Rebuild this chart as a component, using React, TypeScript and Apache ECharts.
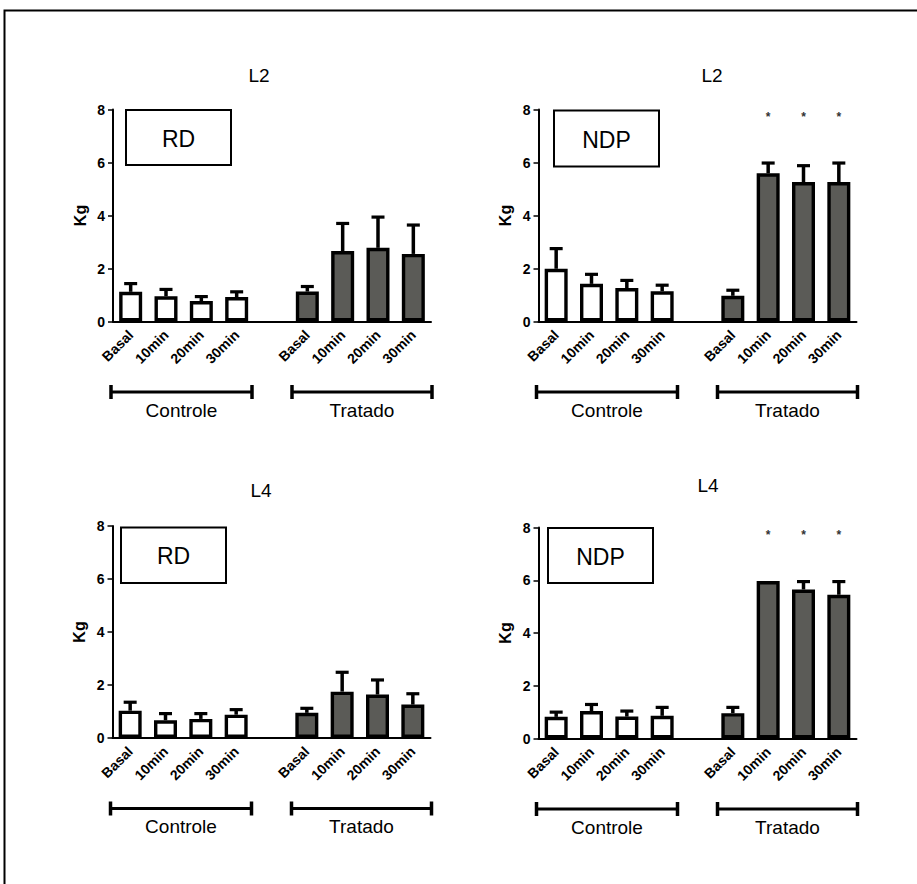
import React, { useEffect, useRef } from "react";
import * as echarts from "echarts";

// ---------- data ----------
const categories = ["Basal", "10min", "20min", "30min", "", "Basal", "10min", "20min", "30min"];
const yTicks = [0, 2, 4, 6, 8];
const groupLabels = ["Controle", "Tratado"];
const panelTitles = ["L2", "L2", "L4", "L4"];
const panelLegends = ["RD", "NDP", "RD", "NDP"];

// L2 - RD
const l2RdControlMean = [1.12, 0.95, 0.77, 0.92];
const l2RdControlErr = [0.31, 0.26, 0.17, 0.2];
const l2RdTreatedMean = [1.13, 2.66, 2.78, 2.55];
const l2RdTreatedErr = [0.19, 1.04, 1.16, 1.09];
// L2 - NDP
const l2NdpControlMean = [1.99, 1.42, 1.26, 1.14];
const l2NdpControlErr = [0.76, 0.36, 0.29, 0.23];
const l2NdpTreatedMean = [0.97, 5.59, 5.26, 5.26];
const l2NdpTreatedErr = [0.21, 0.39, 0.62, 0.72];
// L4 - RD
const l4RdControlMean = [1.03, 0.67, 0.72, 0.88];
const l4RdControlErr = [0.32, 0.25, 0.2, 0.19];
const l4RdTreatedMean = [0.95, 1.75, 1.64, 1.26];
const l4RdTreatedErr = [0.17, 0.73, 0.55, 0.41];
// L4 - NDP
const l4NdpControlMean = [0.82, 1.04, 0.83, 0.86];
const l4NdpControlErr = [0.18, 0.25, 0.21, 0.32];
const l4NdpTreatedMean = [0.96, 5.97, 5.65, 5.45];
const l4NdpTreatedErr = [0.22, 0, 0.3, 0.5];

// significance markers (category indices) per panel
const starIndices = [[], [6, 7, 8], [], [6, 7, 8]];
const starLevel = 7.7;

const panelData = [
  [l2RdControlMean, l2RdControlErr, l2RdTreatedMean, l2RdTreatedErr],
  [l2NdpControlMean, l2NdpControlErr, l2NdpTreatedMean, l2NdpTreatedErr],
  [l4RdControlMean, l4RdControlErr, l4RdTreatedMean, l4RdTreatedErr],
  [l4NdpControlMean, l4NdpControlErr, l4NdpTreatedMean, l4NdpTreatedErr],
];

// ---------- layout ----------
const FONT = "'Liberation Sans', Arial, sans-serif";
const grids = [
  { left: 113, top: 109.5, width: 318, height: 212 },
  { left: 538.5, top: 109.5, width: 318, height: 212 },
  { left: 112.5, top: 526, width: 318, height: 212 },
  { left: 538.5, top: 527.5, width: 318, height: 211 },
];
const titlePos = [
  [259, 75],
  [712, 75],
  [261, 490],
  [708, 485],
];
const legendBoxes = [
  [126, 110, 105, 55],
  [554, 110.5, 105, 56],
  [121, 527.5, 105, 55.5],
  [548, 528, 105, 55],
];
const TREATED_COLOR = "#5b5b57";

export default function App() {
  const ref = useRef<HTMLDivElement>(null);

  useEffect(() => {
    if (!ref.current) return;
    const chart = echarts.init(ref.current, null, { renderer: "svg" });

    const xAxis: any[] = [];
    const yAxis: any[] = [];
    const series: any[] = [];
    const graphic: any[] = [];

    // outer frame
    graphic.push({
      type: "rect",
      shape: { x: 4.5, y: 10.5, width: 960, height: 940 },
      style: { fill: "none", stroke: "#000", lineWidth: 2 },
    });

    grids.forEach((g, i) => {
      xAxis.push({
        type: "category",
        gridIndex: i,
        data: categories,
        axisLine: { lineStyle: { color: "#000", width: 2 } },
        axisTick: { alignWithLabel: true, length: 6, lineStyle: { color: "#000", width: 1.5 } },
        axisLabel: {
          rotate: 45,
          margin: 11,
          color: "#000",
          fontFamily: FONT,
          fontWeight: "bold",
          fontSize: 14,
          interval: 0,
        },
      });
      yAxis.push({
        type: "value",
        gridIndex: i,
        min: 0,
        max: 8,
        interval: 2,
        name: "Kg",
        nameLocation: "middle",
        nameGap: 25,
        nameTextStyle: { color: "#000", fontFamily: FONT, fontWeight: "bold", fontSize: 16 },
        axisLine: { show: true, lineStyle: { color: "#000", width: 2 } },
        axisTick: { show: true, length: 5, lineStyle: { color: "#000", width: 1.5 } },
        splitLine: { show: false },
        axisLabel: {
          margin: 8,
          color: "#000",
          fontFamily: FONT,
          fontWeight: "bold",
          fontSize: 14,
          formatter: (v: number) => (yTicks.includes(v) ? String(v) : ""),
        },
      });

      const [cm, ce, tm, te] = panelData[i];
      const barData: any[] = [];
      const errData: any[] = [];
      cm.forEach((v, k) => {
        barData.push({ value: v, itemStyle: { color: "#fff" } });
        errData.push([k, v, v + ce[k]]);
      });
      barData.push({ value: null });
      tm.forEach((v, k) => {
        barData.push({ value: v, itemStyle: { color: TREATED_COLOR } });
        errData.push([k + 5, v, v + te[k]]);
      });

      series.push({
        type: "bar",
        xAxisIndex: i,
        yAxisIndex: i,
        barWidth: 23,
        data: barData,
        z: 3,
        itemStyle: { borderColor: "#000", borderWidth: 3.4 },
      });
      series.push({
        type: "custom",
        xAxisIndex: i,
        yAxisIndex: i,
        z: 2,
        data: errData,
        renderItem: (params: any, api: any) => {
          const x = api.value(0);
          const m = api.value(1);
          const t = api.value(2);
          if (t - m <= 0.001) return null;
          const p0 = api.coord([x, m]);
          const p1 = api.coord([x, t]);
          return {
            type: "group",
            children: [
              {
                type: "line",
                shape: { x1: p0[0], y1: p0[1], x2: p1[0], y2: p1[1] },
                style: { stroke: "#000", lineWidth: 3.5 },
              },
              {
                type: "line",
                shape: { x1: p1[0] - 6.5, y1: p1[1], x2: p1[0] + 6.5, y2: p1[1] },
                style: { stroke: "#000", lineWidth: 3.2 },
              },
            ],
          };
        },
      });
      if (starIndices[i].length) {
        series.push({
          type: "custom",
          xAxisIndex: i,
          yAxisIndex: i,
          data: starIndices[i].map((k) => [k, starLevel]),
          renderItem: (params: any, api: any) => {
            const p = api.coord([api.value(0), api.value(1)]);
            return {
              type: "text",
              x: p[0],
              y: p[1],
              style: {
                text: "*",
                fill: "#333",
                font: `bold 12px ${FONT}`,
                textAlign: "center",
                textVerticalAlign: "middle",
              },
            };
          },
        });
      }

      // title
      graphic.push({
        type: "text",
        x: titlePos[i][0],
        y: titlePos[i][1],
        style: {
          text: panelTitles[i],
          fill: "#000",
          font: `19px ${FONT}`,
          textAlign: "center",
          textVerticalAlign: "middle",
        },
      });
      // legend box
      const [bx, by, bw, bh] = legendBoxes[i];
      graphic.push({
        type: "rect",
        shape: { x: bx, y: by, width: bw, height: bh },
        style: { fill: "#fff", stroke: "#000", lineWidth: 2 },
        z: 10,
      });
      graphic.push({
        type: "text",
        x: bx + bw / 2,
        y: by + bh / 2 + 1,
        z: 11,
        style: {
          text: panelLegends[i],
          fill: "#000",
          font: `23px ${FONT}`,
          textAlign: "center",
          textVerticalAlign: "middle",
        },
      });
      // group brackets
      const axisY = g.top + g.height;
      const by2 = axisY + 70.5;
      const spans = [
        [g.left - 2, g.left + 139],
        [g.left + 179, g.left + 319],
      ];
      spans.forEach(([x1, x2], s) => {
        graphic.push({
          type: "line",
          shape: { x1, y1: by2, x2, y2: by2 },
          style: { stroke: "#000", lineWidth: 3 },
        });
        [x1, x2].forEach((xx) =>
          graphic.push({
            type: "line",
            shape: { x1: xx, y1: by2 - 7, x2: xx, y2: by2 + 7 },
            style: { stroke: "#000", lineWidth: 3.5 },
          })
        );
        graphic.push({
          type: "text",
          x: (x1 + x2) / 2,
          y: axisY + 88.5,
          style: {
            text: groupLabels[s],
            fill: "#000",
            font: `19px ${FONT}`,
            textAlign: "center",
            textVerticalAlign: "middle",
          },
        });
      });
    });

    chart.setOption({
      animation: false,
      backgroundColor: "#fff",
      grid: grids.map((g) => ({ ...g, containLabel: false })),
      xAxis,
      yAxis,
      series,
      graphic,
    });

    return () => chart.dispose();
  }, []);

  return (
    <div
      ref={ref}
      style={{ position: "fixed", left: 0, top: 0, width: 917, height: 884, background: "#fff" }}
    />
  );
}
